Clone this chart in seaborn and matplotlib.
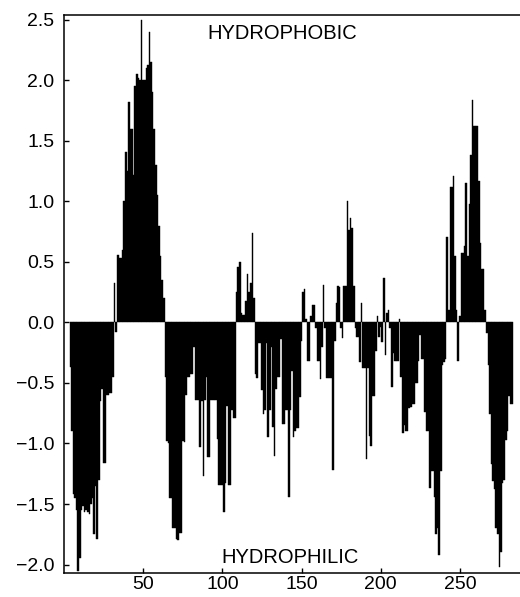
import matplotlib
matplotlib.use("Agg")
import matplotlib.pyplot as plt
import seaborn as sns
import numpy as np
import pandas as pd

# residue numbers (window centres) and hydropathy values
residue = list(range(4, 284))
hydropathy = [
    -0.37, -0.9, -1.42, -1.45, -1.55, -2.05, -1.95, -1.55, -1.52, -1.57,
    -1.55, -1.57, -1.58, -1.5, -1.45, -1.75, -1.35, -1.79, -1.3, -0.65,
    -0.55, -1.16, -1.16, -0.6, -0.6, -0.58, -0.58, -0.45, 0.33, -0.08,
    0.56, 0.53, 0.53, 0.6, 1.0, 1.41, 1.25, 1.82, 1.6, 1.6,
    1.22, 1.95, 2.05, 2.02, 2.0, 2.5, 2.0, 2.0, 2.1, 2.13,
    2.4, 2.15, 1.9, 1.6, 1.3, 1.05, 0.8, 0.55, 0.35, 0.2,
    -0.45, -0.98, -1.0, -1.45, -1.45, -1.7, -1.7, -1.79, -1.8, -1.74,
    -1.74, -0.98, -0.99, -0.6, -0.45, -0.45, -0.43, -0.43, -0.2, -0.64,
    -0.64, -0.64, -1.03, -0.65, -1.27, -0.64, -0.45, -1.11, -1.11, -0.64,
    -0.64, -0.64, -0.64, -0.96, -1.34, -1.34, -1.34, -1.57, -1.33, -0.69,
    -1.34, -1.34, -0.72, -0.79, -0.79, 0.25, 0.46, 0.5, 0.08, 0.06,
    0.06, 0.18, 0.4, 0.25, 0.33, 0.74, 0.2, -0.43, -0.46, -0.17,
    -0.17, -0.56, -0.76, -0.72, -0.17, -0.95, -0.72, -0.2, -0.86, -1.1,
    -0.55, -0.45, -0.45, -0.14, -0.84, -0.84, -0.72, -0.72, -1.44, -0.72,
    -0.4, -0.95, -0.9, -0.87, -0.87, -0.62, -0.15, 0.25, 0.28, 0.03,
    -0.32, -0.32, 0.05, 0.14, 0.14, -0.05, -0.32, -0.32, -0.47, -0.2,
    0.31, -0.05, -0.46, -0.46, -0.46, -0.46, -1.22, -0.15, 0.16, 0.3,
    0.29, -0.05, -0.13, 0.3, 0.3, 1.0, 0.76, 0.86, 0.78, 0.3,
    -0.05, -0.12, -0.12, -0.33, 0.16, -0.38, -0.38, -1.13, -0.38, -0.94,
    -1.02, -0.61, -0.61, -0.24, 0.05, -0.12, -0.04, -0.16, 0.37, -0.27,
    0.08, 0.1, -0.05, -0.53, -0.25, -0.32, -0.32, -0.32, 0.03, -0.45,
    -0.91, -0.85, -0.9, -0.9, -0.71, -0.7, -0.67, -0.67, -0.5, -0.5,
    -0.32, -0.1, -0.3, -0.3, -0.74, -0.9, -0.9, -1.37, -1.23, -1.23,
    -1.44, -1.75, -1.7, -1.92, -1.23, -0.35, -0.33, -0.3, 0.71, 0.1,
    1.12, 1.12, 1.21, 0.55, 0.1, -0.32, 0.05, 0.57, 0.57, 0.63,
    1.15, 0.55, 0.98, 1.38, 1.84, 1.62, 1.62, 1.62, 1.17, 0.66,
    0.44, 0.44, 0.1, -0.09, -0.35, -0.76, -1.17, -1.31, -1.38, -1.7,
    -1.75, -2.02, -1.9, -1.33, -1.3, -0.97, -0.9, -0.61, -0.67, -0.67,
]

x_ticks = [50, 100, 150, 200, 250]
y_ticks = [-2.0, -1.5, -1.0, -0.5, 0.0, 0.5, 1.0, 1.5, 2.0, 2.5]

sns.set_style("ticks")
plt.rcParams["font.family"] = ["Liberation Sans", "DejaVu Sans"]
plt.rcParams["text.color"] = "black"

df = pd.DataFrame({"residue": residue, "hydropathy": hydropathy})

fig = plt.figure(figsize=(5.2, 5.97), dpi=100)
ax = fig.add_axes([64 / 520, 24 / 597, (520 - 64) / 520, (573 - 15) / 597])

sns.barplot(
    data=df, x="residue", y="hydropathy", native_scale=True,
    color="black", saturation=1, width=1.0, errorbar=None,
    edgecolor="black", linewidth=0.3, ax=ax,
)

ax.set_xlim(0, 288)
ax.set_ylim(-2.07, 2.54)
ax.set_xticks(x_ticks)
ax.set_yticks(y_ticks)
ax.set_yticklabels([f"{v:.1f}".replace("-", "\u2212") for v in y_ticks])
ax.set_xlabel("")
ax.set_ylabel("")
ax.tick_params(direction="in", length=3.5, width=1, labelsize=14, colors="black")
ax.tick_params(axis="y", pad=7)
ax.tick_params(axis="x", pad=2)

for side in ["left", "bottom", "top"]:
    ax.spines[side].set_linewidth(1.1)
    ax.spines[side].set_color("black")
ax.spines["right"].set_visible(False)

ax.text(138, 2.39, "HYDROPHOBIC", ha="center", va="center", fontsize=14.5, color="black")
ax.text(142.6, -1.94, "HYDROPHILIC", ha="center", va="center", fontsize=14.5, color="black")

fig.savefig("out.png", dpi=100)
